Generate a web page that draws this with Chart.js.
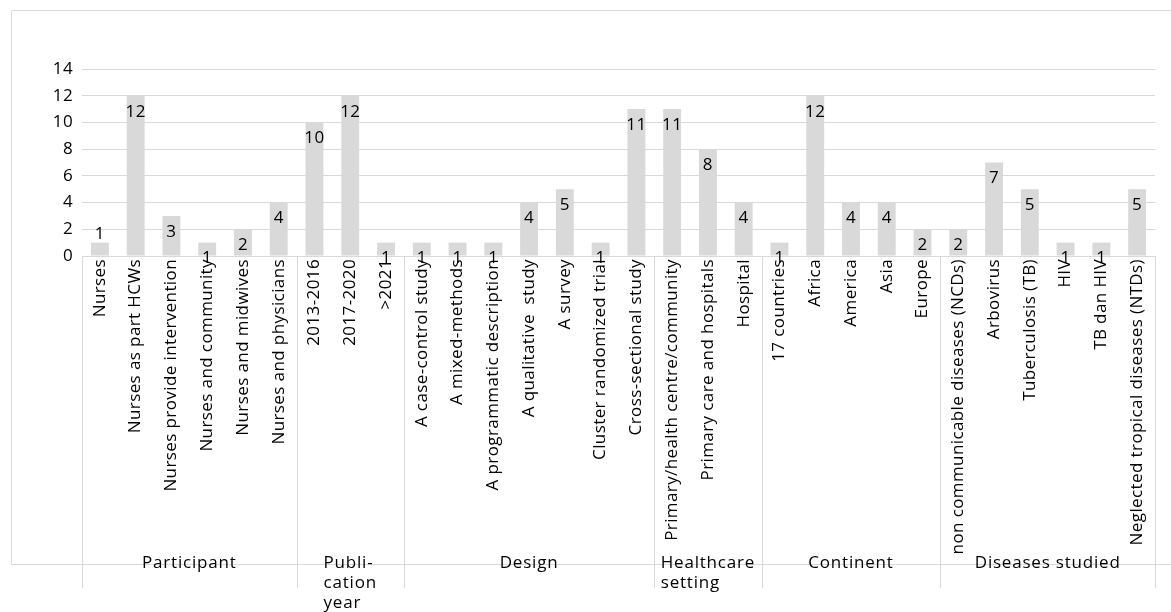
<!DOCTYPE html>
<html>
<head>
<meta charset="utf-8">
<script src="https://cdn.jsdelivr.net/npm/chart.js@4"></script>
<style>
  html, body { margin: 0; padding: 0; background: #fff; }
  #wrap { width: 1171px; height: 612px; position: relative; }
</style>
</head>
<body>
<div id="wrap"><canvas id="chart" width="1171" height="612"></canvas></div>
<script>
// categories, in drawing order
const categories = [
  'Nurses', 'Nurses as part HCWs', 'Nurses provide intervention', 'Nurses and community',
  'Nurses and midwives', 'Nurses and physicians',
  '2013-2016', '2017-2020', '>2021',
  'A case-control study', 'A mixed-methods', 'A programmatic description', 'A qualitative  study',
  'A survey', 'Cluster randomized trial', 'Cross-sectional study',
  'Primary/health centre/community', 'Primary care and hospitals', 'Hospital',
  '17 countries', 'Africa', 'America', 'Asia', 'Europe',
  'non communicable diseases (NCDs)', 'Arbovirus', 'Tuberculosis (TB)', 'HIV', 'TB dan HIV',
  'Neglected tropical diseases (NTDs)'
];
const counts = [
  1, 12, 3, 1, 2, 4,
  10, 12, 1,
  1, 1, 1, 4, 5, 1, 11,
  11, 8, 4,
  1, 12, 4, 4, 2,
  2, 7, 5, 1, 1, 5
];
// group labels under the categories (lines of wrapped text) and how many categories each spans
const groupNames = [
  ['Participant'],
  ['Publi-', 'cation', 'year'],
  ['Design'],
  ['Healthcare', 'setting'],
  ['Continent'],
  ['Diseases studied']
];
const groupSizes = [6, 3, 7, 3, 5, 6];
const yTicks = [0, 2, 4, 6, 8, 10, 12, 14];

const FONT = '"Open Sans", "Noto Sans", sans-serif';
const GREY = '#d9d9d9';

// outer frame, group separators and group names
const groupAxis = {
  id: 'groupAxis',
  beforeDraw(chart) {
    const ctx = chart.ctx;
    // slightly wider letter spacing for all text, like the original rendering
    ctx.letterSpacing = '0.4px';
    ctx.save();
    ctx.strokeStyle = GREY;
    ctx.lineWidth = 1;
    ctx.beginPath();
    ctx.moveTo(11.5, 564.5); ctx.lineTo(11.5, 10.5); ctx.lineTo(1171, 10.5);
    ctx.moveTo(11.5, 564.5); ctx.lineTo(1171, 564.5);
    ctx.stroke();
    ctx.restore();
  },
  afterDraw(chart) {
    const ctx = chart.ctx;
    const area = chart.chartArea;
    const step = (area.right - area.left) / categories.length;
    ctx.save();
    ctx.strokeStyle = GREY;
    ctx.lineWidth = 1;
    let idx = 0;
    const edges = [area.left];
    groupSizes.forEach(n => { idx += n; edges.push(area.left + idx * step); });
    ctx.beginPath();
    edges.forEach(e => {
      const px = Math.round(e) + 0.5;
      ctx.moveTo(px, area.bottom); ctx.lineTo(px, 588);
    });
    ctx.stroke();

    ctx.fillStyle = '#000';
    ctx.font = '17px ' + FONT;
    ctx.letterSpacing = '0.8px';
    ctx.textBaseline = 'middle';
    groupNames.forEach((lines, g) => {
      const cx = (edges[g] + edges[g + 1]) / 2;
      const w = Math.max(...lines.map(l => ctx.measureText(l).width));
      ctx.textAlign = 'left';
      lines.forEach((l, k) => {
        ctx.fillText(l, cx - w / 2, 563 + k * 20);
      });
    });
    ctx.restore();
  }
};

// value labels just inside the bar tops
const valueLabels = {
  id: 'valueLabels',
  afterDatasetsDraw(chart) {
    const ctx = chart.ctx;
    const meta = chart.getDatasetMeta(0);
    ctx.save();
    ctx.fillStyle = '#000';
    ctx.font = '17px ' + FONT;
    ctx.textAlign = 'center';
    ctx.textBaseline = 'middle';
    meta.data.forEach((bar, i) => {
      const y = i === 0 ? bar.y - 8 : bar.y + 16;
      ctx.fillText(String(counts[i]), bar.x, y);
    });
    ctx.restore();
  }
};

new Chart(document.getElementById('chart'), {
  type: 'bar',
  data: {
    labels: categories,
    datasets: [{
      data: counts,
      backgroundColor: GREY,
      borderWidth: 0,
      categoryPercentage: 1,
      barPercentage: 0.5
    }]
  },
  options: {
    responsive: false,
    animation: false,
    layout: { padding: { top: 69, right: 16, left: 0, bottom: 0 } },
    plugins: { legend: { display: false }, tooltip: { enabled: false } },
    scales: {
      x: {
        grid: { display: false, drawTicks: false },
        border: { display: false },
        ticks: {
          autoSkip: false,
          minRotation: 90,
          maxRotation: 90,
          padding: 3,
          color: '#000',
          font: { family: FONT, size: 17 }
        },
        afterFit(scale) { scale.height = 612 - 256; }
      },
      y: {
        min: 0,
        max: 14,
        afterBuildTicks(scale) { scale.ticks = yTicks.map(v => ({ value: v })); },
        grid: { color: GREY, lineWidth: 1, drawTicks: false },
        border: { display: false },
        ticks: {
          padding: 9,
          color: '#000',
          font: { family: FONT, size: 17 }
        },
        afterFit(scale) { scale.width = 82; }
      }
    }
  },
  plugins: [groupAxis, valueLabels]
});
</script>
</body>
</html>
